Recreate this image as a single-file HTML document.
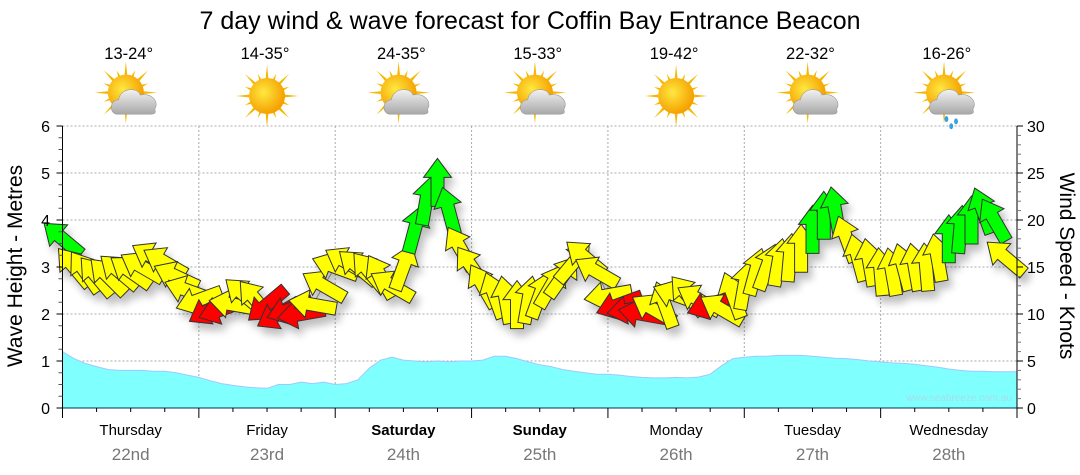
<!DOCTYPE html>
<html><head><meta charset="utf-8"><style>
body{margin:0;background:#fff;}
svg{display:block;font-family:"Liberation Sans",sans-serif;}
</style></head><body>
<svg id="c" width="1080" height="475" viewBox="0 0 1080 475">
<defs>
<filter id="sh" x="-50%" y="-50%" width="200%" height="200%"><feGaussianBlur in="SourceAlpha" stdDeviation="4"/><feOffset dx="4" dy="7"/><feComponentTransfer><feFuncA type="linear" slope="0.25"/></feComponentTransfer><feMerge><feMergeNode/><feMergeNode in="SourceGraphic"/></feMerge></filter>
<radialGradient id="sun" cx="0.4" cy="0.4" r="0.6"><stop offset="0" stop-color="#ffe840"/><stop offset="1" stop-color="#f5a000"/></radialGradient>
<linearGradient id="cloud" x1="0" y1="0" x2="0" y2="1"><stop offset="0" stop-color="#f2f2f2"/><stop offset="1" stop-color="#a8a8a8"/></linearGradient>
</defs>
<text x="530" y="29" font-size="25" text-anchor="middle" fill="#000">7 day wind &amp; wave forecast for Coffin Bay Entrance Beacon</text>
<g id="gridG"></g>
<g id="waveG"></g>
<g id="windG"></g>
<g id="axesG"></g>
<g id="topG"></g>
<text x="1012" y="401" font-size="10" text-anchor="end" fill="#a8dde8">www.seabreeze.com.au</text>
<text transform="translate(22,266) rotate(-90)" font-size="21" text-anchor="middle">Wave Height - Metres</text>
<text transform="translate(1060,266) rotate(90)" font-size="21" text-anchor="middle">Wind Speed - Knots</text>
</svg>
<script>
const dayNames=["Thursday","Friday","Saturday","Sunday","Monday","Tuesday","Wednesday"];
const dayDates=["22nd","23rd","24th","25th","26th","27th","28th"];
const dayBold=[false,false,true,true,false,false,false];
const tempRanges=["13-24°","14-35°","24-35°","15-33°","19-42°","22-32°","16-26°"];
const weatherIcons=["partly","sunny","partly","partly","sunny","partly","rain"];
const leftTicks=[0,1,2,3,4,5,6];
const rightTicks=[0,5,10,15,20,25,30];
// 2-hourly wind speed (knots)
const windSpeed=[18,15,14.5,14,14,14.5,14.5,15,16,15.5,14,12.5,
11.5,10.5,10.5,11,12,11.5,11,10,10.5,10,11,13,
15,15.5,15,14.5,14,13,15,19,22,24,21,17,
15,13,12,11.5,11,11.5,12,13,14,15.5,16,14.5,
12,11,10.5,10,10.5,11,12,12,11.5,11,10.5,12,
13,14.5,15,15.5,16,17,19,20.5,21,18,16,15.5,
14.5,14.5,15,15,15,16,18,19,20,21,20,16];
// arrow pointing direction (degrees, 0=up, 90=right)
const windDir=[-50,-40,-35,-40,-45,-50,-55,-60,-60,-60,-65,-70,
-110,-120,-110,-80,-50,-40,-130,-120,-110,-100,-80,-60,
-70,-60,-50,-40,-30,-60,20,15,10,0,-15,-30,
-35,-30,-20,-10,0,10,20,30,35,40,-50,-60,
-100,-110,-100,-80,-60,-20,-70,-40,-60,-110,-60,-20,
10,15,20,10,5,0,0,0,-10,-20,-15,-10,
-5,-10,-15,-10,-5,-10,0,5,0,-20,-30,-50];
// 0 yellow, 1 red, 2 green
const windColor=[2,0,0,0,0,0,0,0,0,0,0,0,
0,1,1,0,0,0,1,1,1,1,0,0,
0,0,0,0,0,0,0,2,2,2,2,0,
0,0,0,0,0,0,0,0,0,0,0,0,
0,1,1,1,0,0,0,0,0,1,0,0,
0,0,0,0,0,0,2,2,2,0,0,0,
0,0,0,0,0,0,2,2,2,2,2,0];
// 2-hourly wave height (metres)
const waveHeight=[1.2,1.05,0.95,0.88,0.82,0.8,0.8,0.8,0.78,0.78,0.75,0.7,
0.65,0.58,0.52,0.48,0.45,0.43,0.42,0.5,0.5,0.55,0.52,0.55,
0.5,0.52,0.6,0.85,1.02,1.08,1.02,1.0,0.98,1.0,0.98,1.0,
1.0,1.02,1.1,1.1,1.05,0.98,0.92,0.88,0.82,0.78,0.75,0.72,
0.72,0.7,0.67,0.65,0.64,0.64,0.65,0.64,0.66,0.72,0.9,1.05,
1.08,1.1,1.1,1.12,1.12,1.12,1.1,1.08,1.06,1.05,1.03,1.0,
0.98,0.96,0.95,0.93,0.9,0.87,0.83,0.8,0.78,0.78,0.77,0.77,0.77];

const NS="http://www.w3.org/2000/svg";
const X0=62.5,X1=1017,Y0=408,Y6=126;
const dayW=(X1-X0)/7;
const xIdx=i=>X0+i*dayW/12;
const yM=m=>Y0-(Y0-Y6)*m/6;
const yK=k=>Y0-(Y0-Y6)*k/30;
function mk(tag,attrs,parent){const e=document.createElementNS(NS,tag);for(const k in attrs)e.setAttribute(k,attrs[k]);parent.appendChild(e);return e;}

const gridG=document.getElementById('gridG');
leftTicks.forEach(t=>{if(t>0){const l=mk('line',{x1:X0,x2:X1,y1:yM(t),y2:yM(t),stroke:'#aaa','stroke-dasharray':'2,2'},gridG);

}});
for(let d=1;d<7;d++){const l=mk('line',{x1:X0+d*dayW,x2:X0+d*dayW,y1:Y6,y2:Y0,stroke:'#aaa','stroke-dasharray':'2,2'},gridG);

}

const waveG=document.getElementById('waveG');
let wp='M'+X0+','+Y0;
waveHeight.forEach((h,i)=>{wp+=' L'+xIdx(i).toFixed(1)+','+yM(h).toFixed(1);});
wp+=' L'+xIdx(waveHeight.length-1)+','+Y0+' Z';
const wa=mk('path',{d:wp,fill:'#80ffff',stroke:'#a0c8ff','stroke-width':1},waveG);



const windG=document.getElementById('windG');
let lp='';
windSpeed.forEach((k,i)=>{lp+=(i?' L':'M')+xIdx(i).toFixed(1)+','+yK(k).toFixed(1);});
const wl=mk('path',{d:lp,fill:'none',stroke:'#999','stroke-width':1},windG);


const cols=['#ffff00','#ff0000','#00ff00'];
const arrowG=mk('g',{filter:'url(#sh)'},windG);
windSpeed.forEach((k,i)=>{
 const a=mk('path',{d:'M0,-24 L14,-5 L6.5,-5 L6.5,24 L-6.5,24 L-6.5,-5 L-14,-5 Z',fill:cols[windColor[i]],stroke:'#333','stroke-width':1,
 transform:`translate(${xIdx(i).toFixed(1)},${yK(k).toFixed(1)}) rotate(${windDir[i]})`},arrowG);
 
 
});

const axesG=document.getElementById('axesG');
mk('line',{x1:X0,x2:X0,y1:Y6,y2:Y0+10,stroke:'#000'},axesG);
mk('line',{x1:X1,x2:X1,y1:Y6,y2:Y0,stroke:'#000'},axesG);
mk('line',{x1:X0,x2:X1,y1:Y0,y2:Y0,stroke:'#003050'},axesG);
for(let m=0;m<=6;m+=0.25){const y=yM(m);mk('line',{x1:X0-(m%1==0?6:4),x2:X0,y1:y,y2:y,stroke:m%1==0?'#000':'#555'},axesG);}
for(let k=0;k<=30;k+=1){const y=yK(k);mk('line',{x1:X1,x2:X1+(k%5==0?6:4),y1:y,y2:y,stroke:k%5==0?'#000':'#777'},axesG);}
leftTicks.forEach(t=>{const e=mk('text',{x:50,y:yM(t)+6,'font-size':16,'text-anchor':'end'},axesG);e.textContent=t;

});
rightTicks.forEach(t=>{const e=mk('text',{x:1027,y:yK(t)+6,'font-size':16},axesG);e.textContent=t;

});
for(let q=0;q<=28;q++){const x=X0+q*dayW/4;mk('line',{x1:x,x2:x,y1:Y0,y2:Y0+(q%4==0?10:4),stroke:'#000'},axesG);}
dayNames.forEach((n,d)=>{const cx=X0+(d+0.5)*dayW;
 const t=mk('text',{x:cx,y:435,'font-size':15,'text-anchor':'middle','font-weight':dayBold[d]?'bold':'normal'},axesG);t.textContent=n;
 
 
 const s=mk('text',{x:cx,y:460,'font-size':17,'text-anchor':'middle',fill:'#777'},axesG);s.textContent=dayDates[d];
 
 
});

const topG=document.getElementById('topG');
tempRanges.forEach((tr,d)=>{const cx=X0+(d+0.5)*dayW-2;
 const t=mk('text',{x:cx,y:59,'font-size':16.5,'text-anchor':'middle'},topG);t.textContent=tr;
 
 
 const g=mk('g',{transform:`translate(${cx+2},${weatherIcons[d]=='sunny'?96:95}) scale(1.2)`},topG);
 
 
 const sx=weatherIcons[d]=='sunny'?0:-4, sy=weatherIcons[d]=='sunny'?0:-2;
 for(let r=0;r<16;r++){const ang=r*22.5*Math.PI/180,L=r%2?20:26;
  mk('polygon',{points:`${sx+Math.cos(ang-0.12)*12},${sy+Math.sin(ang-0.12)*12} ${sx+Math.cos(ang)*L},${sy+Math.sin(ang)*L} ${sx+Math.cos(ang+0.12)*12},${sy+Math.sin(ang+0.12)*12}`,fill:'#f5b800'},g);}
 mk('circle',{cx:sx,cy:sy,r:15,fill:'url(#sun)'},g);
 if(weatherIcons[d]!='sunny'){
  mk('path',{d:'M-11,16 C-18,16 -18,4 -10,4 C-9,-6 6,-7 8,0 C18,-2 24,6 20,12 C22,16 18,16 15,16 Z',fill:'url(#cloud)',stroke:'#999','stroke-width':0.5},g);
 }
 if(weatherIcons[d]=='rain'){
  [[-2,20],[6,22],[2,26]].forEach(p=>mk('ellipse',{cx:p[0],cy:p[1],rx:1.6,ry:2.5,fill:'#3aa0e0'},g));
 }
});
</script>
</body></html>
